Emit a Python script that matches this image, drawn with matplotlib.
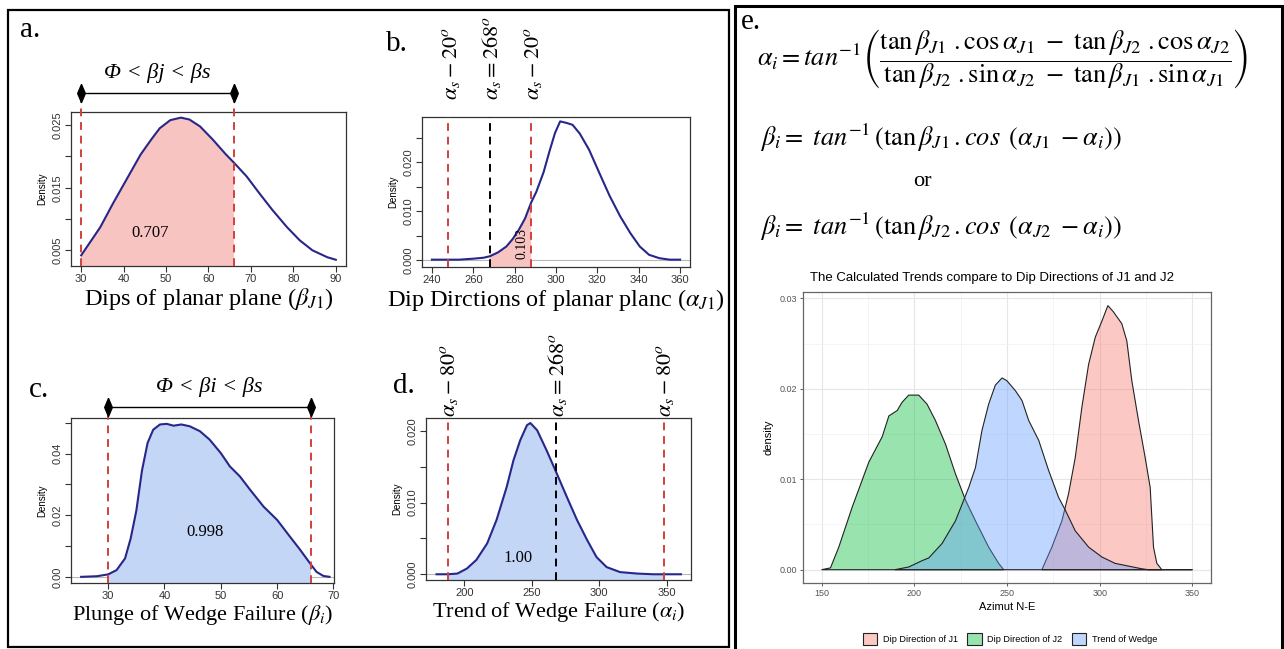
import numpy as np
import matplotlib
matplotlib.use('Agg')
import matplotlib.pyplot as plt
import matplotlib.transforms as mtransforms
from matplotlib.patches import Rectangle, Patch
from matplotlib.colors import to_rgba

plt.rcParams['font.family'] = ['Liberation Sans', 'DejaVu Sans']
plt.rcParams['mathtext.fontset'] = 'stix'
SERIF = ['Liberation Serif', 'DejaVu Serif']

W, H = 1284, 649

# ---- panel a: dips of planar plane
a_x = [30, 32, 34.5, 37.5, 41, 44, 46.5, 48.5, 51, 53.5, 55.5, 58, 61, 64, 66,
       69, 72, 75, 78.5, 81.5, 84.5, 88, 90]
a_y = [0.0042, 0.0062, 0.0087, 0.0125, 0.0167, 0.0203, 0.0227, 0.0245, 0.0258,
       0.0262, 0.0259, 0.0248, 0.0227, 0.0204, 0.0190, 0.0168, 0.0141, 0.0115,
       0.0087, 0.0066, 0.0050, 0.0039, 0.0035]
a_xticks = [30, 40, 50, 60, 70, 80, 90]
a_yticks = [0.005, 0.010, 0.015, 0.020, 0.025]
a_yticklabels = ['0.005', '', '0.015', '', '0.025']

# ---- panel b: dip directions of planar plane
b_x = [240, 247, 253, 260, 265, 268, 272, 276, 279, 282, 285, 288, 290.5, 294,
       297, 299.5, 302, 305, 308, 311.5, 316, 321, 326, 331, 336, 340.5, 345,
       350, 355, 360]
b_y = [0.0001, 0.0001, 0.0001, 0.0003, 0.0005, 0.0008, 0.0016, 0.0028, 0.0043,
       0.0062, 0.0085, 0.0118, 0.0140, 0.0180, 0.0225, 0.0260, 0.0284, 0.0281,
       0.0277, 0.0259, 0.0226, 0.0178, 0.0131, 0.0090, 0.0055, 0.0028, 0.0011,
       0.0004, 0.0001, 0.0001]
b_xticks = [240, 260, 280, 300, 320, 340, 360]
b_yticks = [0.000, 0.005, 0.010, 0.015, 0.020, 0.025]
b_yticklabels = ['0.000', '', '0.010', '', '0.020', '']

# ---- panel c: plunge of wedge failure
c_x = [25.2, 28, 30, 31.5, 33, 34, 35, 36, 37, 38, 39.2, 40.4, 41.6, 43, 44.5,
       46.3, 48, 50, 51.6, 53.4, 55.2, 57.6, 60, 62.3, 64, 66, 67, 68.2, 69.3]
c_y = [0.0, 0.0002, 0.0008, 0.0022, 0.0060, 0.0125, 0.0215, 0.0345, 0.0435,
       0.0478, 0.0495, 0.0497, 0.0491, 0.0495, 0.0489, 0.0473, 0.0446, 0.0402,
       0.0359, 0.0326, 0.0283, 0.0228, 0.0185, 0.0130, 0.0090, 0.0040, 0.0016,
       0.0003, 0.0]
c_xticks = [30, 40, 50, 60, 70]
c_yticks = [0.00, 0.01, 0.02, 0.03, 0.04, 0.05]
c_yticklabels = ['0.00', '', '0.02', '', '0.04', '']

# ---- panel d: trend of wedge failure
d_x = [179.5, 188, 195, 202, 209, 217, 224, 231.5, 236.5, 241.5, 246.5, 249,
       254, 261, 268, 276, 283.5, 291, 298, 305.5, 315.5, 328, 340, 348, 360.5]
d_y = [0.0, 0.0, 0.0001, 0.0008, 0.0020, 0.0043, 0.0076, 0.0122, 0.0159,
       0.0187, 0.0208, 0.0211, 0.0201, 0.0173, 0.0143, 0.0108, 0.0076, 0.0048,
       0.0024, 0.0010, 0.0003, 0.0001, 0.0, 0.0, 0.0]
d_xticks = [200, 250, 300, 350]
d_yticks = [0.000, 0.005, 0.010, 0.015, 0.020]
d_yticklabels = ['0.000', '', '0.010', '', '0.020']

# ---- panel e: densities of J1, J2 and wedge trend
j1_x = [268.8, 274.2, 279.6, 283.2, 286.8, 290.4, 294, 297.6, 301.2, 304.4,
        307.4, 311.9, 314.6, 317.3, 320.9, 324.5, 327.2, 329, 330.8, 333.5]
j1_y = [0.0, 0.0025, 0.0054, 0.0084, 0.0124, 0.0180, 0.0227, 0.0257, 0.0275,
        0.0292, 0.0285, 0.0272, 0.0253, 0.0209, 0.0165, 0.0124, 0.0091, 0.0025,
        0.0007, 0.0]
j2_x = [150, 154.8, 159.3, 166.5, 175.5, 182.7, 186.3, 190.8, 193.4, 197,
        202.4, 206.9, 211.4, 216.8, 222.2, 227.6, 233, 240.1, 245.5, 248.2]
j2_y = [0.0, 0.0002, 0.0025, 0.0069, 0.0119, 0.0147, 0.0170, 0.0176, 0.0185,
        0.0193, 0.0193, 0.0183, 0.0165, 0.0139, 0.0106, 0.0077, 0.0054, 0.0025,
        0.0007, 0.0]
wd_x = [189.5, 197, 204.2, 207.8, 215, 222.2, 229.4, 233, 236.5, 240.1, 243.7,
        247.3, 249.9, 254.5, 258.1, 261.7, 267.1, 272.4, 277.8, 281.4, 286.8,
        294, 301.2, 308.3, 315.5, 322.7, 326.3, 350]
wd_y = [0.0, 0.0003, 0.0010, 0.0013, 0.0029, 0.0054, 0.0091, 0.0113, 0.0154,
        0.0183, 0.0204, 0.0212, 0.0209, 0.0198, 0.0187, 0.0165, 0.0143, 0.0110,
        0.0080, 0.0066, 0.0043, 0.0025, 0.0014, 0.0007, 0.0004, 0.0001, 0.0, 0.0]
e_names = ['Dip Direction of J1', 'Dip Direction of J2', 'Trend of Wedge']
e_colors = ['#F8766D', '#00BA38', '#619CFF']
e_xticks = [150, 200, 250, 300, 350]
e_yticks = [0.00, 0.01, 0.02, 0.03]

LINE = '#27278a'
RED = '#d2403c'
PINK = '#f8c4c2'
BLUE = '#c4d6f6'

fig = plt.figure(figsize=(W / 100, H / 100), dpi=100)


def px_axes(x0, y0, x1, y1):
    return fig.add_axes([x0 / W, 1 - y1 / H, (x1 - x0) / W, (y1 - y0) / H])


def r_panel(rect, x, y, xlim, ylim, xticks, yticks, yticklabels, xlabel,
            lo, hi, fill, zero=True, xlsize=16):
    ax = px_axes(*rect)
    x = np.array(x)
    y = np.array(y)
    if zero:
        ax.axhline(0, color='#b8b8b8', lw=0.8, zorder=1)
    m = (x >= lo) & (x <= hi)
    ax.fill_between(x[m], y[m], ylim[0] - 1, color=fill, lw=0, zorder=2)
    ax.plot(x, y, color=LINE, lw=1.5, zorder=4)
    ax.set_xlim(xlim)
    ax.set_ylim(ylim)
    ax.set_xticks(xticks)
    ax.set_yticks(yticks)
    ax.set_yticklabels(yticklabels, rotation=90, va='center')
    ax.tick_params(direction='out', length=4, width=0.8, labelsize=8,
                   labelcolor='#333333', color='#333333', pad=2)
    for s in ax.spines.values():
        s.set_linewidth(0.9)
        s.set_color('#333333')
    ax.set_ylabel('Density', fontsize=7, labelpad=4)
    ax.set_xlabel(xlabel, fontsize=xlsize, family=SERIF, labelpad=1)
    return ax


# panel a
ax_a = r_panel((71, 112, 346, 266), a_x, a_y, (27.6, 92.4), (0.0025, 0.0271),
               a_xticks, a_yticks, a_yticklabels,
               r'Dips of planar plane ($\beta_{J1}$)', 30, 66, PINK, zero=False,
               xlsize=17.5)
# panel b
ax_b = r_panel((422, 117, 690, 267), b_x, b_y, (235.2, 364.8), (-0.0014, 0.0293),
               b_xticks, b_yticks, b_yticklabels,
               r'Dip Dirctions of planar planc ($\alpha_{J1}$)', 268, 288, PINK,
               xlsize=17.5)
# panel c
ax_c = r_panel((71, 418, 334, 583), c_x, c_y, (23.4, 70.1), (-0.002, 0.0516),
               c_xticks, c_yticks, c_yticklabels,
               r'Plunge of Wedge Failure ($\beta_i$)', 30, 66, BLUE)
# panel d
ax_d = r_panel((426, 418, 691, 580), d_x, d_y, (171.7, 368), (-0.0008, 0.0218),
               d_xticks, d_yticks, d_yticklabels,
               r'Trend of Wedge Failure ($\alpha_i$)', 188, 348, BLUE)

dash = dict(ls=(0, (4, 3)), lw=1.4, zorder=5)

# limits with arrows (a, c)
for ax, ya, lab in [(ax_a, 1.123, 'Φ < βj < βs'), (ax_c, 1.067, 'Φ < βi < βs')]:
    tr = mtransforms.blended_transform_factory(ax.transData, ax.transAxes)
    for xv in (30, 66):
        ax.plot([xv, xv], [0, ya], color=RED, transform=tr, clip_on=False, **dash)
    diamond = [(0, 1), (0.42, 0), (0, -1), (-0.42, 0), (0, 1)]
    ax.plot([30, 66], [ya, ya], color='black', lw=1.0, transform=tr,
            clip_on=False, marker=diamond, markersize=13, zorder=6)
    ax.text(48, ya + (0.13 if ax is ax_a else 0.12), lab, transform=tr,
            ha='center', va='center', fontsize=16, family=SERIF,
            style='italic')

# reference lines with rotated labels (b, d)
for ax, xs, labs, cols, yt in [
        (ax_b, [248, 268, 288],
         [r'$\alpha_s - \mathit{20}^o$', r'$\alpha_s = \mathit{268}^o$',
          r'$\alpha_s - \mathit{20}^o$'], [RED, 'black', RED], 1.113),
        (ax_d, [188, 268, 348],
         [r'$\alpha_s - \mathit{80}^o$', r'$\alpha_s = \mathit{268}^o$',
          r'$\alpha_s - \mathit{80}^o$'], [RED, 'black', RED], 1.006)]:
    tr = mtransforms.blended_transform_factory(ax.transData, ax.transAxes)
    for xv, lab, col in zip(xs, labs, cols):
        ax.axvline(xv, color=col, **dash)
        ax.text(xv + 1, yt, lab, transform=tr, rotation=90, ha='center',
                va='bottom', fontsize=16)

# probabilities
ax_a.text(46.2, 0.0077, '0.707', ha='center', va='center', fontsize=12, family=SERIF, zorder=6)
ax_b.text(283.7, 0.0035, '0.103', ha='center', va='center', fontsize=10,
          family=SERIF, rotation=90, zorder=6)
ax_c.text(47.2, 0.0146, '0.998', ha='center', va='center', fontsize=12, family=SERIF, zorder=6)
ax_d.text(240, 0.0022, '1.00', ha='center', va='center', fontsize=12, family=SERIF, zorder=6)

# panel letters
for lx, ly, t in [(20, 30, 'a.'), (386, 44, 'b.'), (29, 390, 'c.'),
                  (393, 386, 'd.'), (741, 22, 'e.')]:
    fig.text(lx / W, 1 - ly / H, t, fontsize=21, family=SERIF, va='center')

# frames
fig.add_artist(Rectangle((8 / W, 1 - 647 / H), 721 / W, 637 / H,
                         transform=fig.transFigure, fill=False, lw=1.6, ec='black'))
fig.add_artist(Rectangle((735 / W, 1 - 655 / H), 547 / W, 649 / H,
                         transform=fig.transFigure, fill=False, lw=2.2, ec='black'))

# formulas
fig.text(757 / W, 1 - 59 / H,
         r'$\alpha_i = \mathit{tan}^{-1}\left(\dfrac{\tan\beta_{J1}\ .\cos\alpha_{J1}\ -\ \tan\beta_{J2}\ .\cos\alpha_{J2}}'
         r'{\tan\beta_{J2}\ .\sin\alpha_{J2}\ -\ \tan\beta_{J1}\ .\sin\alpha_{J1}}\right)$',
         fontsize=19, va='center', ha='left')
fig.text(760 / W, 1 - 138 / H,
         r'$\beta_i =\ \mathit{tan}^{-1}\,(\tan\beta_{J1}\,.\mathit{cos}\ \,(\alpha_{J1}\ -\alpha_i))$',
         fontsize=19, va='center', ha='left')
fig.text(922 / W, 1 - 182 / H, 'or', fontsize=16, family=SERIF, ha='center', va='center')
fig.text(760 / W, 1 - 227 / H,
         r'$\beta_i =\ \mathit{tan}^{-1}\,(\tan\beta_{J2}\,.\mathit{cos}\ \,(\alpha_{J2}\ -\alpha_i))$',
         fontsize=19, va='center', ha='left')

# panel e chart
ax_e = px_axes(803, 292, 1211, 583)
for xs, ys, c in [(j1_x, j1_y, e_colors[0]), (j2_x, j2_y, e_colors[1]),
                  (wd_x, wd_y, e_colors[2])]:
    ax_e.fill(xs, ys, facecolor=to_rgba(c, 0.4), edgecolor='#222222', lw=0.8)
ax_e.set_xlim(140, 360)
ax_e.set_ylim(-0.00147, 0.0307)
ax_e.set_xticks(e_xticks)
ax_e.set_yticks(e_yticks)
ax_e.set_yticklabels(['%.2f' % v for v in e_yticks])
ax_e.set_xticks([175, 225, 275, 325], minor=True)
ax_e.set_yticks([0.005, 0.015, 0.025], minor=True)
ax_e.grid(which='major', color='#e6e6e6', lw=0.8)
ax_e.grid(which='minor', color='#f0f0f0', lw=0.5)
ax_e.set_axisbelow(True)
ax_e.tick_params(which='major', length=2.5, width=0.6, color='#444444',
                 labelsize=6.5, labelcolor='#555555', pad=2)
ax_e.tick_params(which='minor', length=0)
for s in ax_e.spines.values():
    s.set_color('#666666')
    s.set_linewidth(0.9)
ax_e.set_xlabel('Azimut N-E', fontsize=8, labelpad=3)
ax_e.set_ylabel('density', fontsize=8, labelpad=4)
fig.text(992 / W, 1 - 278 / H,
         'The Calculated Trends compare to Dip Directions of J1 and J2',
         fontsize=9.5, ha='center', va='center')
handles = [Patch(facecolor=to_rgba(c, 0.4), edgecolor='#222222', lw=0.8)
           for c in e_colors]
fig.legend(handles, e_names, loc='center', ncol=3,
           bbox_to_anchor=(1010 / W, 1 - 639 / H), frameon=False, fontsize=6.6,
           handlelength=1.6, handleheight=1.8, columnspacing=1.0,
           handletextpad=0.6)

fig.savefig('out.png', dpi=100)
